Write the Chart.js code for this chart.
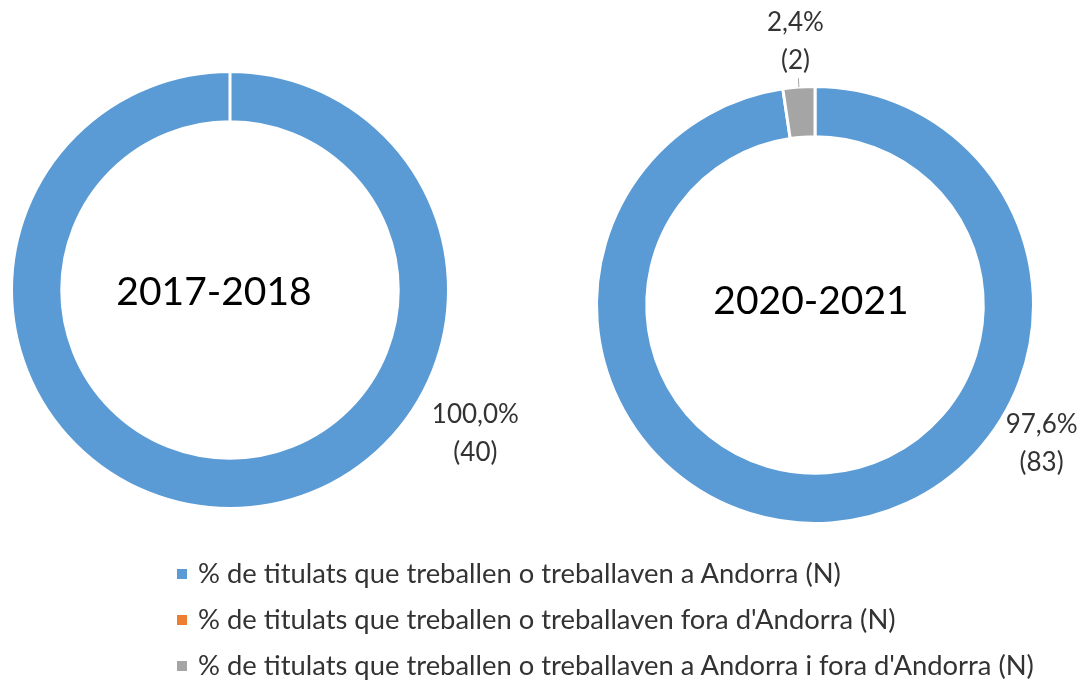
<!DOCTYPE html>
<html lang="ca">
<head>
    <meta charset="UTF-8">
    <title>Titulats que treballen a Andorra</title>
    <script src="https://cdn.jsdelivr.net/npm/chart.js"></script>
    <style>
        body { margin: 0; background: #fff; width: 1084px; height: 684px; position: relative; overflow: hidden; font-family: Lato, "Noto Sans", sans-serif; }
        #wrapLeft { position: absolute; left: 0; top: 0; width: 540px; height: 540px; }
        #wrapRight { position: absolute; left: 560px; top: 0; width: 524px; height: 560px; }
        #legend { position: absolute; left: 177px; top: 555px; color: #333; font-size: 27.4px; }
        .item { height: 46px; line-height: 36px; white-space: nowrap; }
        .box { display: inline-block; width: 10px; height: 10px; margin-right: 11px; vertical-align: middle; position: relative; top: -2px; }
    </style>
</head>
<body>
<div id="wrapLeft"><canvas id="chartLeft"></canvas></div>
<div id="wrapRight"><canvas id="chartRight"></canvas></div>
<div id="legend"></div>

<script>
    // categories
    const categories = [
        "% de titulats que treballen o treballaven a Andorra (N)",
        "% de titulats que treballen o treballaven fora d'Andorra (N)",
        "% de titulats que treballen o treballaven a Andorra i fora d'Andorra (N)"
    ];
    const colors = ['#5b9bd5', '#ed7d31', '#a5a5a5'];

    // counts (N) per course
    const counts2017 = [40, 0, 0];
    const counts2020 = [83, 0, 2];
    // percentages as shown
    const pct2017 = ['100,0%', '', ''];
    const pct2020 = ['97,6%', '', '2,4%'];

    // label placement: angle in degrees (null = middle of slice), distance beyond outer radius
    const labelAngle2017 = [30.4, null, null];
    const labelGap2017 = [66, 0, 0];
    const labelAngle2020 = [31.4, null, null];
    const labelGap2020 = [47, 0, 46];

    const labelPlugin = {
        id: 'sliceLabels',
        afterDraw(chart, args, opts) {
            const ctx = chart.ctx;
            const meta = chart.getDatasetMeta(0);
            ctx.save();
            ctx.font = '26px Lato, "Noto Sans", sans-serif';
            ctx.fillStyle = '#333';
            ctx.textAlign = 'center';
            ctx.textBaseline = 'middle';
            meta.data.forEach((arc, i) => {
                const v = chart.data.datasets[0].data[i];
                if (!v) return;
                const p = arc.getProps(['x', 'y', 'startAngle', 'endAngle', 'outerRadius'], true);
                let a = opts.angles[i] === null ? (p.startAngle + p.endAngle) / 2 : opts.angles[i] * Math.PI / 180;
                const r = p.outerRadius + opts.gaps[i];
                const lx = p.x + Math.cos(a) * r;
                const ly = p.y + Math.sin(a) * r;
                ctx.fillText(opts.pct[i], lx, ly - 19);
                ctx.fillText('(' + v + ')', lx, ly + 19);
                if (opts.angles[i] === null) {
                    // leader line
                    ctx.strokeStyle = '#a6a6a6';
                    ctx.lineWidth = 1;
                    ctx.beginPath();
                    ctx.moveTo(p.x + Math.cos(a) * p.outerRadius, p.y + Math.sin(a) * p.outerRadius);
                    ctx.lineTo(p.x + Math.cos(a) * (p.outerRadius + 6), ly + 37);
                    ctx.stroke();
                }
            });
            ctx.restore();
        }
    };

    const centerText = {
        id: 'centerText',
        afterDraw(chart, args, opts) {
            const meta = chart.getDatasetMeta(0);
            const arc = meta.data[0];
            const ctx = chart.ctx;
            ctx.save();
            ctx.font = '39px Lato, "Noto Sans", sans-serif';
            ctx.fillStyle = '#000';
            ctx.textAlign = 'center';
            ctx.textBaseline = 'middle';
            ctx.fillText(opts.text, arc.x + opts.dx, arc.y + opts.dy);
            ctx.restore();
        }
    };

    function makeDoughnut(id, counts, pct, angles, gaps, title, dx, dy, padding) {
        new Chart(document.getElementById(id), {
            type: 'doughnut',
            data: {
                labels: categories,
                datasets: [{
                    data: counts,
                    backgroundColor: colors,
                    borderColor: '#fff',
                    borderWidth: 3
                }]
            },
            options: {
                responsive: true,
                maintainAspectRatio: false,
                animation: false,
                cutout: '77%',
                layout: { padding: padding },
                plugins: {
                    legend: { display: false },
                    tooltip: { enabled: false },
                    sliceLabels: { pct: pct, angles: angles, gaps: gaps },
                    centerText: { text: title, dx: dx, dy: dy }
                }
            },
            plugins: [labelPlugin, centerText]
        });
    }

    makeDoughnut('chartLeft', counts2017, pct2017, labelAngle2017, labelGap2017, '2017-2018', -16, 2,
        { left: 10, top: 70, right: 90, bottom: 30 });
    makeDoughnut('chartRight', counts2020, pct2020, labelAngle2020, labelGap2020, '2020-2021', -4, -4,
        { left: 35, top: 85, right: 49, bottom: 35 });

    // legend
    const legend = document.getElementById('legend');
    categories.forEach((c, i) => {
        const row = document.createElement('div');
        row.className = 'item';
        row.innerHTML = '<span class="box" style="background:' + colors[i] + '"></span>' + c;
        legend.appendChild(row);
    });
</script>
</body>
</html>
